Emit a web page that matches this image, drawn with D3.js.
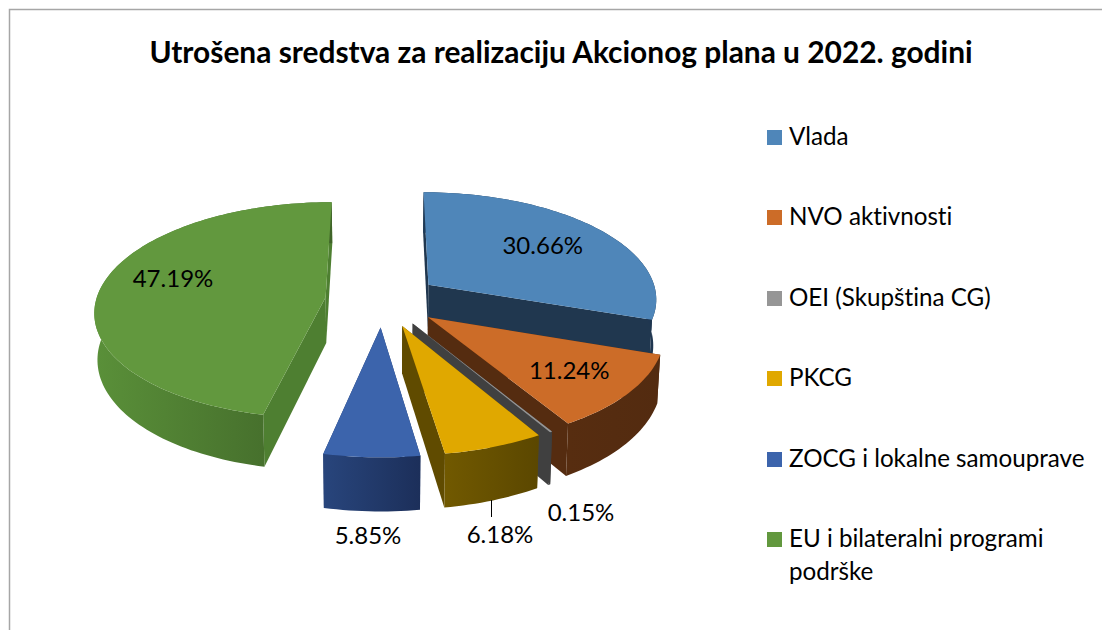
<!DOCTYPE html>
<html>
<head>
<meta charset="utf-8">
<script src="https://cdnjs.cloudflare.com/ajax/libs/d3/7.8.5/d3.min.js"></script>
<style>
  html, body { margin: 0; padding: 0; background: #fff; }
  svg { display: block; }
  text { font-family: Lato, "Open Sans", sans-serif; fill: #000; font-variant-ligatures: none; }
</style>
</head>
<body>
<svg id="chart" width="1102" height="630"></svg>
<script>
const title = "Utrošena sredstva za realizaciju Akcionog plana u 2022. godini"
const categories = ["Vlada", "NVO aktivnosti", "OEI (Skupština CG)", "PKCG", "ZOCG i lokalne samouprave", "EU i bilateralni programi podrške"]
const values = [30.66, 11.24, 0.15, 6.18, 5.85, 47.19]
const labels = ["30.66%", "11.24%", "0.15%", "6.18%", "5.85%", "47.19%"]
const colors = ["#4f86b9", "#cc6c28", "#969696", "#e0a800", "#3c64ac", "#62983e"]

let svg = d3.select("#chart")

// #################
// Moldura e título
// #################
svg.append("path")
  .attr("d", "M9.5,630V9.5H1102")
  .attr("fill", "none")
  .attr("stroke", "#a6a6a6")
  .attr("stroke-width", 1.5)

svg.append("text")
  .attr("x", 561)
  .attr("y", 63)
  .attr("text-anchor", "middle")
  .attr("font-size", 29.9)
  .attr("font-weight", 700)
  .text(title)

// ######################################
// Projeção da pizza 3D (com perspectiva)
// ######################################
const cx = 382.5, cy = 300, radiusX = 229.5, radiusY = 107, persp = 0.12, depth = 46, explode = 0.25

function project(u, v, down) {
  let p = 1 / (1 + persp * v)
  let shrink = down ? 0.989 : 1
  return [cx + radiusX * u * p * shrink, cy - radiusY * v * p + (down ? depth * p : 0)]
}

let slices = d3.pie().sort(null).value(d => d)(values)
let line = d3.line()

// world coords of a point of a slice, angle clockwise from the top
function world(s, ang, r) {
  let mid = (s.startAngle + s.endAngle) / 2
  return [explode * Math.sin(mid) + r * Math.sin(ang), explode * Math.cos(mid) + r * Math.cos(ang)]
}

function arcPoints(s, down) {
  let n = Math.max(2, Math.ceil((s.endAngle - s.startAngle) * 40))
  return d3.range(n + 1).map(i => {
    let w = world(s, s.startAngle + (s.endAngle - s.startAngle) * i / n, 1)
    return project(w[0], w[1], down)
  })
}

function apex(s, down) {
  let w = world(s, 0, 0)
  return project(w[0], w[1], down)
}

function edgeWall(s, ang) {
  let w = world(s, ang, 1)
  return [apex(s, false), project(w[0], w[1], false), project(w[0], w[1], true), apex(s, true)]
}

// wall shades: [left of outer wall, right of outer wall, flat radial wall]
const wallShades = [
  ["#1f3a56", "#1f3650", "#20374f"],
  ["#572d10", "#532b10", "#552c10"],
  ["#404040", "#3c3c3c", "#404040"],
  ["#715900", "#5b4700", "#604b00"],
  ["#28457c", "#1c2f5a", "#20386a"],
  ["#5a9039", "#3f6428", "#4e7f31"]
]

let defs = svg.append("defs")
slices.forEach((s, i) => {
  let xs = arcPoints(s, false).map(d => d[0])
  let g = defs.append("linearGradient")
    .attr("id", "wall" + i)
    .attr("gradientUnits", "userSpaceOnUse")
    .attr("x1", d3.min(xs)).attr("x2", d3.max(xs))
    .attr("y1", 0).attr("y2", 0)
  g.append("stop").attr("offset", 0).attr("stop-color", wallShades[i][0])
  g.append("stop").attr("offset", 1).attr("stop-color", wallShades[i][1])
})

// back to front: Vlada, EU, NVO, OEI, PKCG, ZOCG
const paintOrder = [0, 5, 1, 2, 3, 4]
paintOrder.forEach(i => {
  let s = slices[i]
  let g = svg.append("g")
  ;[s.startAngle, s.endAngle].forEach(ang => {
    g.append("path")
      .attr("d", line(edgeWall(s, ang)) + "Z")
      .attr("fill", wallShades[i][2])
  })
  let top = arcPoints(s, false)
  let bottom = arcPoints(s, true).reverse()
  g.append("path")
    .attr("d", line(top.concat(bottom)) + "Z")
    .attr("fill", "url(#wall" + i + ")")
  g.append("path")
    .attr("d", line([apex(s, false)].concat(top)) + "Z")
    .attr("fill", colors[i])
})

// ##################
// Rótulos dos dados
// ##################
// [radius along the slice middle, nudge x, nudge y]
const labelPlace = [[0.62, 7, -3], [0.72, 0, 0], [1.2, 0, 0], [1.2, 0, 0], [1.2, 0, 0], [0.67, -2, -11]]
let labelOffsets = slices.map((s, i) => {
  let mid = (s.startAngle + s.endAngle) / 2
  let w = world(s, mid, labelPlace[i][0])
  let p = project(w[0], w[1], false)
  return [p[0] + labelPlace[i][1], p[1] + labelPlace[i][2]]
})
// the three small slices have their labels under the walls
labelOffsets[2] = [581, 513]
labelOffsets[3] = [500, 535]
labelOffsets[4] = [368, 536]

svg.selectAll(".data-label")
  .data(labels)
  .enter().append("text")
  .attr("class", "data-label")
  .attr("x", (d, i) => labelOffsets[i][0])
  .attr("y", (d, i) => labelOffsets[i][1])
  .attr("dy", "0.35em")
  .attr("text-anchor", "middle")
  .attr("font-size", 24)
  .text(d => d)

// leader line of PKCG
svg.append("line")
  .attr("x1", 491.5).attr("x2", 491.5)
  .attr("y1", 500).attr("y2", 517)
  .attr("stroke", "#000")
  .attr("stroke-width", 1)

// #######
// Legenda
// #######
let rowY = d3.scaleOrdinal().domain(categories).range([130, 210, 291, 371, 452, 532])
let legend = svg.selectAll(".legend")
  .data(categories)
  .enter().append("g")
  .attr("class", "legend")
  .attr("transform", d => "translate(767," + rowY(d) + ")")

legend.append("rect")
  .attr("width", 15)
  .attr("height", 15)
  .attr("fill", (d, i) => colors[i])

legend.each(function (d) {
  // wrap the long entry the same way as the reference
  let parts = d === categories[5] ? ["EU i bilateralni programi", "podrške"] : [d]
  d3.select(this).selectAll("text")
    .data(parts)
    .enter().append("text")
    .attr("x", 22)
    .attr("y", (t, j) => 15 + j * 33)
    .attr("font-size", 24.2)
    .text(t => t)
})
</script>
</body>
</html>
